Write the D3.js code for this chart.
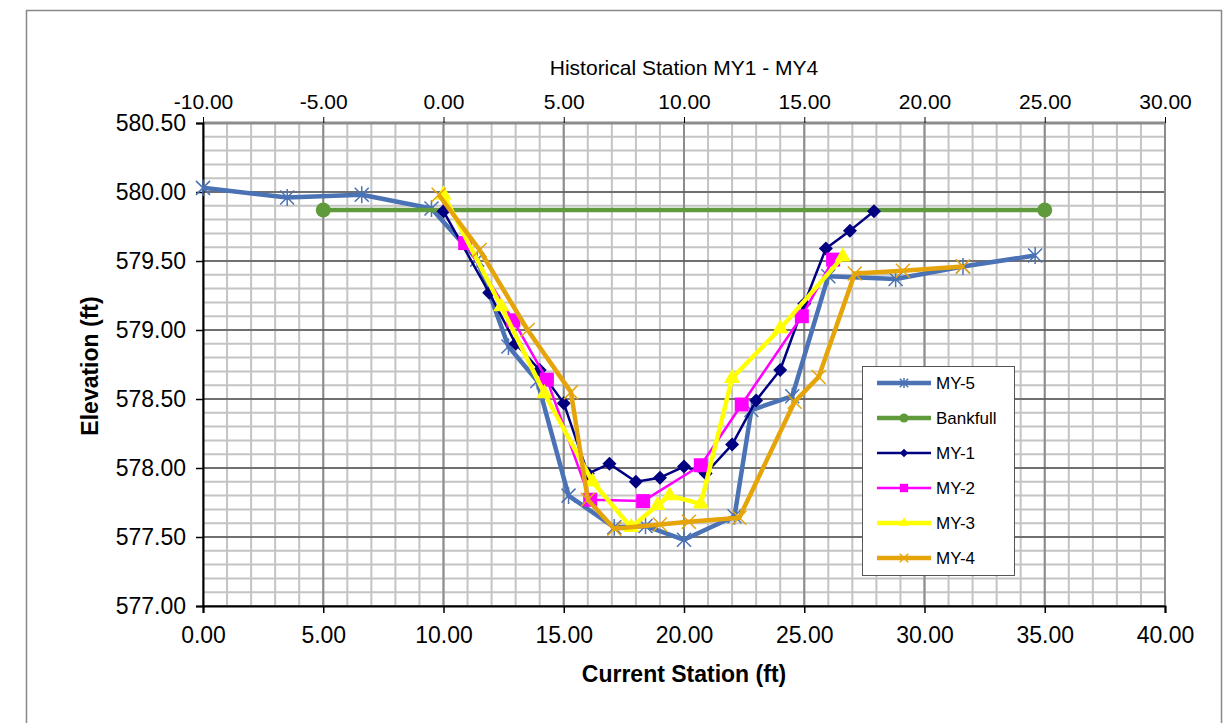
<!DOCTYPE html>
<html>
<head>
<meta charset="utf-8">
<script src="https://cdn.jsdelivr.net/npm/d3@7"></script>
<style>
  body { margin: 0; background: #fff; }
  text { font-family: "Liberation Sans", Arial, sans-serif; fill: #000; }
</style>
</head>
<body>
<div id="plot"></div>
<script>
// cross-section data
var my5X = [0.0, 3.5, 6.6, 9.5, 11.4, 12.7, 13.9, 15.2, 17.1, 18.4, 20.0, 22.1, 22.8, 24.5, 26.0, 28.8, 31.6, 34.6];
var my5Y = [580.03, 579.96, 579.98, 579.88, 579.51, 578.88, 578.63, 577.80, 577.57, 577.58, 577.48, 577.65, 578.42, 578.52, 579.39, 579.37, 579.46, 579.54];

var bankX = [5.0, 35.0];
var bankY = [579.87, 579.87];

var my1X = [10.0, 11.9, 13.0, 14.0, 15.0, 16.0, 16.9, 18.0, 19.0, 20.0, 20.9, 22.0, 23.0, 24.0, 25.0, 25.9, 26.9, 27.9];
var my1Y = [579.86, 579.27, 578.90, 578.71, 578.47, 577.96, 578.03, 577.90, 577.93, 578.01, 577.96, 578.17, 578.49, 578.71, 579.19, 579.59, 579.72, 579.86];

var my2X = [10.9, 12.9, 14.3, 16.1, 18.3, 20.7, 22.4, 24.9, 26.2];
var my2Y = [579.63, 579.07, 578.64, 577.77, 577.76, 578.02, 578.46, 579.10, 579.51];

var my3X = [10.0, 12.4, 14.2, 16.2, 17.8, 18.9, 19.4, 20.7, 22.0, 24.0, 26.6];
var my3Y = [579.98, 579.17, 578.54, 577.90, 577.57, 577.73, 577.80, 577.74, 578.65, 579.01, 579.53];

var my4X = [9.8, 11.5, 13.5, 15.3, 16.0, 17.1, 19.0, 20.2, 22.3, 24.6, 25.6, 27.1, 29.1, 31.6];
var my4Y = [579.98, 579.58, 579.00, 578.55, 577.77, 577.56, 577.59, 577.61, 577.64, 578.48, 578.66, 579.41, 579.43, 579.46];

var seriesNames = ["MY-5", "Bankfull", "MY-1", "MY-2", "MY-3", "MY-4"];
var bottomTicks = [0, 5, 10, 15, 20, 25, 30, 35, 40];
var topTicks = [-10, -5, 0, 5, 10, 15, 20, 25, 30];
var yTicks = [577.0, 577.5, 578.0, 578.5, 579.0, 579.5, 580.0, 580.5];

var W = 1231, H = 723;
var L = 203, R = 1165, T = 123, B = 606;

var x = d3.scaleLinear().domain([0, 40]).range([L, R]);
var xTop = d3.scaleLinear().domain([-10, 30]).range([L, R]);
var y = d3.scaleLinear().domain([577, 580.5]).range([B, T]);

var svg = d3.select('#plot').append('svg')
  .attr('width', W).attr('height', H);

// outer chart frame
svg.append('rect')
  .attr('x', 26.5).attr('y', 10.5).attr('width', 1195).attr('height', 730)
  .attr('fill', 'none').attr('stroke', '#888').attr('stroke-width', 1.5);

// grid
var grid = svg.append('g');
grid.selectAll('.vmin').data(d3.range(0, 41, 1)).join('line')
  .attr('x1', d => x(d)).attr('x2', d => x(d)).attr('y1', T).attr('y2', B)
  .attr('stroke', '#c4c4c4').attr('stroke-width', 2);
grid.selectAll('.hmin').data(d3.range(0, 36, 1).map(i => 577 + i * 0.1)).join('line')
  .attr('y1', d => y(d)).attr('y2', d => y(d)).attr('x1', L).attr('x2', R)
  .attr('stroke', '#c4c4c4').attr('stroke-width', 2);
grid.selectAll('.vmaj').data(bottomTicks).join('line')
  .attr('x1', d => x(d)).attr('x2', d => x(d)).attr('y1', T).attr('y2', B)
  .attr('stroke', '#8c8c8c').attr('stroke-width', 2);
grid.selectAll('.hmaj').data(yTicks).join('line')
  .attr('y1', d => y(d)).attr('y2', d => y(d)).attr('x1', L).attr('x2', R)
  .attr('stroke', '#555').attr('stroke-width', 1.5);
// top and right border of plot
grid.append('line').attr('x1', L).attr('x2', R).attr('y1', T).attr('y2', T)
  .attr('stroke', '#8c8c8c').attr('stroke-width', 3);
grid.append('line').attr('x1', R).attr('x2', R).attr('y1', T).attr('y2', B)
  .attr('stroke', '#8c8c8c').attr('stroke-width', 2);

// axes (plain hyphen for negatives, like the original)
var fmt = d => d.toFixed(2);
var gx = svg.append('g').attr('transform', 'translate(0,' + B + ')')
  .call(d3.axisBottom(x).tickValues(bottomTicks).tickSize(7).tickPadding(14).tickFormat(fmt));
var gxt = svg.append('g').attr('transform', 'translate(0,' + T + ')')
  .call(d3.axisTop(xTop).tickValues(topTicks).tickSize(6).tickPadding(8).tickFormat(fmt));
var gy = svg.append('g').attr('transform', 'translate(' + L + ',0)')
  .call(d3.axisLeft(y).tickValues(yTicks).tickSize(7).tickPadding(10).tickFormat(fmt));

[gx, gy].forEach(function(g) {
  g.select('.domain').attr('stroke', '#000').attr('stroke-width', 2);
  g.selectAll('.tick line').attr('stroke', '#000').attr('stroke-width', 1.5);
  g.selectAll('text').style('font-size', '23px').attr('fill', '#000');
});
gxt.select('.domain').remove();
gxt.selectAll('.tick line').attr('stroke', '#000').attr('stroke-width', 1);
gxt.selectAll('text').style('font-size', '21px').attr('fill', '#000');

// titles
svg.append('text').attr('x', 684).attr('y', 75).attr('text-anchor', 'middle')
  .style('font-size', '21px').text('Historical Station MY1 - MY4');
svg.append('text').attr('x', 684).attr('y', 682).attr('text-anchor', 'middle')
  .style('font-size', '23px').style('font-weight', 'bold').text('Current Station (ft)');
svg.append('text').attr('transform', 'translate(98,366) rotate(-90)').attr('text-anchor', 'middle')
  .style('font-size', '23px').style('font-weight', 'bold').text('Elevation (ft)');

// markers
function markerPath(type, s) {
  var h = s / 2;
  if (type === 'star') {
    return 'M' + (-h) + ',' + (-h) + 'L' + h + ',' + h + 'M' + (-h) + ',' + h + 'L' + h + ',' + (-h) +
      'M0,' + (-h * 1.2) + 'L0,' + (h * 1.2);
  }
  if (type === 'x') {
    return 'M' + (-h) + ',' + (-h) + 'L' + h + ',' + h + 'M' + (-h) + ',' + h + 'L' + h + ',' + (-h);
  }
  var sym = { circle: d3.symbolCircle, diamond: d3.symbolSquare, square: d3.symbolSquare, triangle: d3.symbolTriangle }[type];
  var area = { circle: Math.PI * h * h, diamond: s * s * 0.5, square: s * s, triangle: s * s * 0.45 }[type];
  return d3.symbol(sym, area)();
}

var series = [
  { name: seriesNames[0], xs: my5X, ys: my5Y, color: '#4a72b5', width: 4.5, marker: 'star', size: 14, filled: false },
  { name: seriesNames[1], xs: bankX, ys: bankY, color: '#5f9a3c', width: 4.5, marker: 'circle', size: 15, filled: true },
  { name: seriesNames[2], xs: my1X, ys: my1Y, color: '#000080', width: 2.5, marker: 'diamond', size: 14, filled: true },
  { name: seriesNames[3], xs: my2X, ys: my2Y, color: '#ff00ff', width: 2.5, marker: 'square', size: 14, filled: true },
  { name: seriesNames[4], xs: my3X, ys: my3Y, color: '#ffff00', width: 4.5, marker: 'triangle', size: 16, filled: true },
  { name: seriesNames[5], xs: my4X, ys: my4Y, color: '#e5a50a', width: 4.5, marker: 'x', size: 14, filled: false }
];

var line = d3.line().x(d => x(d[0])).y(d => y(d[1]));

function drawMarker(g, s, px, py, size) {
  g.append('path')
    .attr('d', markerPath(s.marker, size))
    .attr('transform', 'translate(' + px + ',' + py + ')' + (s.marker === 'diamond' ? ' rotate(45)' : ''))
    .attr('fill', s.filled ? s.color : 'none')
    .attr('stroke', s.color)
    .attr('stroke-width', s.filled ? 0 : 1.5);
}

series.forEach(function(s) {
  var pts = d3.zip(s.xs, s.ys);
  var g = svg.append('g');
  g.append('path').datum(pts).attr('d', line)
    .attr('fill', 'none').attr('stroke', s.color).attr('stroke-width', s.width)
    .attr('stroke-linejoin', 'round');
  pts.forEach(function(p) { drawMarker(g, s, x(p[0]), y(p[1]), s.size); });
});

// legend
var lg = svg.append('g');
lg.append('rect').attr('x', 862.5).attr('y', 366.5).attr('width', 152).attr('height', 209)
  .attr('fill', '#fff').attr('stroke', '#555').attr('stroke-width', 1);
series.forEach(function(s, i) {
  var yy = 383 + i * 35;
  lg.append('line').attr('x1', 877).attr('x2', 931).attr('y1', yy).attr('y2', yy)
    .attr('stroke', s.color).attr('stroke-width', s.width);
  drawMarker(lg, s, 904, yy, s.size * 0.6);
  lg.append('text').attr('x', 936).attr('y', yy + 6).style('font-size', '17px').text(s.name);
});
</script>
</body>
</html>
